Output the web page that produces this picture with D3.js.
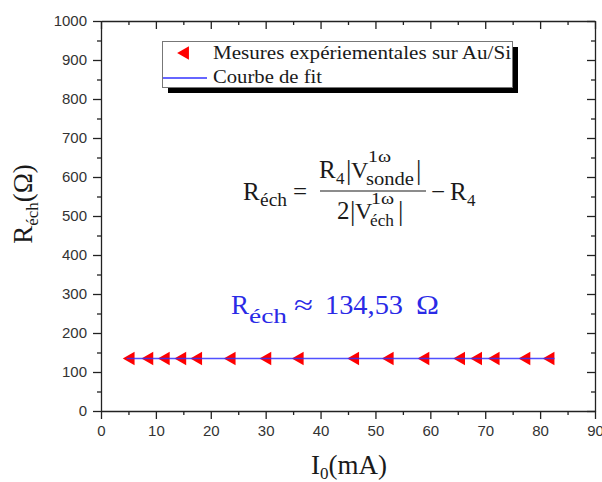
<!DOCTYPE html>
<html>
<head>
<meta charset="utf-8">
<script src="https://cdn.jsdelivr.net/npm/d3@7"></script>
<style>
  body { margin: 0; background: #fff; }
  .tick text { font-family: "Liberation Sans", Arial, sans-serif; font-size: 15px; fill: #333; }
  .axis path, .axis line { stroke: #222; stroke-width: 1.3; }
</style>
</head>
<body>
<div id="chart"></div>
<script>
// data
const currents = [5.4, 8.8, 11.8, 14.8, 17.7, 23.8, 30.3, 36.2, 46.3, 52.6, 59.1, 65.6, 68.7, 71.9, 77.5, 81.9];
const resistances = [134.5, 134.5, 134.5, 134.5, 134.5, 134.5, 134.5, 134.5, 134.5, 134.5, 134.5, 134.5, 134.5, 134.5, 134.5, 134.5];
const fitValue = 134.53;
const xMajor = d3.range(0, 91, 10);
const xMinor = d3.range(5, 90, 10);
const yMajor = d3.range(0, 1001, 100);
const yMinor = d3.range(50, 1000, 100);

const colors = {
  marker: "#ff0000",
  fit: "#3333ff",
  result: "#2a2ae6",
  text: "#1a1a1a"
};

// dimensions
const W = 602, H = 482;
const margin = { top: 21, right: 7, bottom: 71, left: 101 };
const width = W - margin.left - margin.right;
const height = H - margin.top - margin.bottom;

const root = d3.select("#chart").append("svg")
  .attr("width", W)
  .attr("height", H);

const svg = root.append("g")
  .attr("transform", `translate(${margin.left},${margin.top})`);

const x = d3.scaleLinear().domain([0, 90]).range([0, width]);
const y = d3.scaleLinear().domain([0, 1000]).range([height, 0]);

// axes (bottom/left outward with labels, top/right inward)
svg.append("g").attr("class", "axis")
  .attr("transform", `translate(0,${height})`)
  .call(d3.axisBottom(x).tickValues(xMajor).tickFormat(d3.format("d")).tickSize(8).tickPadding(6).tickSizeOuter(0));
svg.append("g").attr("class", "axis")
  .attr("transform", `translate(0,${height})`)
  .call(d3.axisBottom(x).tickValues(xMinor).tickSize(4).tickFormat("").tickSizeOuter(0))
  .call(g => g.select(".domain").remove());

svg.append("g").attr("class", "axis")
  .call(d3.axisLeft(y).tickValues(yMajor).tickFormat(d3.format("d")).tickSize(8).tickPadding(6).tickSizeOuter(0));
svg.append("g").attr("class", "axis")
  .call(d3.axisLeft(y).tickValues(yMinor).tickSize(4).tickFormat("").tickSizeOuter(0))
  .call(g => g.select(".domain").remove());

svg.append("g").attr("class", "axis")
  .call(d3.axisTop(x).tickValues(xMajor).tickSize(-8).tickFormat("").tickSizeOuter(0));
svg.append("g").attr("class", "axis")
  .call(d3.axisTop(x).tickValues(xMinor).tickSize(-4).tickFormat("").tickSizeOuter(0))
  .call(g => g.select(".domain").remove());

svg.append("g").attr("class", "axis")
  .attr("transform", `translate(${width},0)`)
  .call(d3.axisRight(y).tickValues(yMajor).tickSize(-8).tickFormat("").tickSizeOuter(0));
svg.append("g").attr("class", "axis")
  .attr("transform", `translate(${width},0)`)
  .call(d3.axisRight(y).tickValues(yMinor).tickSize(-4).tickFormat("").tickSizeOuter(0))
  .call(g => g.select(".domain").remove());

// markers: left-pointing triangles
const tri = d3.symbol().type(d3.symbolTriangle).size(80);
svg.selectAll(".pt")
  .data(currents.map((c, i) => ({ c, r: resistances[i] })))
  .enter().append("path")
  .attr("class", "pt")
  .attr("d", tri)
  .attr("transform", d => `translate(${x(d.c)},${y(d.r)}) rotate(-90)`)
  .attr("fill", colors.marker);

// fit line
svg.append("line")
  .attr("x1", x(d3.min(currents)) - 4)
  .attr("x2", x(d3.max(currents)) + 4)
  .attr("y1", y(fitValue))
  .attr("y2", y(fitValue))
  .attr("stroke", colors.fit)
  .attr("stroke-opacity", 0.85)
  .attr("stroke-width", 1.6);

// axis titles
const serif = '"Liberation Serif", "Times New Roman", serif';
const yt = root.append("text")
  .attr("transform", "translate(32,204) rotate(-90)")
  .attr("text-anchor", "middle")
  .style("font-family", serif)
  .style("font-size", "27px")
  .attr("fill", colors.text);
yt.append("tspan").text("R");
yt.append("tspan").attr("dy", 6).style("font-size", "17px").text("éch");
yt.append("tspan").attr("dy", -6).text("(Ω)");

const xt = root.append("text")
  .attr("x", 349).attr("y", 474)
  .attr("text-anchor", "middle")
  .style("font-family", serif)
  .style("font-size", "27px")
  .attr("fill", colors.text);
xt.append("tspan").text("I");
xt.append("tspan").attr("dy", 5).style("font-size", "17px").text("0");
xt.append("tspan").attr("dy", -5).text("(mA)");

// legend
const lg = root.append("g");
lg.append("rect").attr("x", 168).attr("y", 47).attr("width", 350).attr("height", 46).attr("fill", "#000");
lg.append("rect").attr("x", 162.5).attr("y", 41.5).attr("width", 350).attr("height", 46)
  .attr("fill", "#fff").attr("stroke", "#777").attr("stroke-width", 1);
lg.append("path").attr("d", tri).attr("transform", "translate(185,53) rotate(-90)").attr("fill", colors.marker);
lg.append("line").attr("x1", 163).attr("x2", 207).attr("y1", 78).attr("y2", 78)
  .attr("stroke", colors.fit).attr("stroke-width", 1.6);
lg.append("text").attr("x", 213).attr("y", 59)
  .style("font-family", serif).style("font-size", "18px").attr("fill", colors.text)
  .attr("textLength", 298).attr("lengthAdjust", "spacingAndGlyphs")
  .text("Mesures expériementales sur Au/Si");
lg.append("text").attr("x", 213).attr("y", 83)
  .style("font-family", serif).style("font-size", "18px").attr("fill", colors.text)
  .attr("textLength", 109).attr("lengthAdjust", "spacingAndGlyphs")
  .text("Courbe de fit");

// formula: each line is one text element, pieces placed with tspans
function line(parent, parts) {
  const t = parent.append("text");
  parts.forEach(p => {
    const s = t.append("tspan").attr("x", p[1]).attr("y", p[2]).style("font-size", p[3] + "px").text(p[0]);
    if (p[4]) s.attr("textLength", p[4]).attr("lengthAdjust", "spacingAndGlyphs");
  });
  return t;
}
const fm = root.append("g").style("font-family", serif).attr("fill", colors.text);
line(fm, [["R", 243, 200, 25], ["éch", 260, 206, 18, 27], ["=", 293, 200, 25]]);
line(fm, [["R", 319, 178, 25], ["4", 336, 184, 17], ["|", 346, 179, 27], ["V", 351, 178, 24],
      ["1ω", 368, 162, 17, 23], ["sonde", 366, 185, 18, 48], ["|", 416, 179, 27]]);
fm.append("line").attr("x1", 320).attr("x2", 426).attr("y1", 191).attr("y2", 191)
  .attr("stroke", colors.text).attr("stroke-width", 1.2);
line(fm, [["2", 337, 219, 25], ["|", 350, 220, 27], ["V", 355, 219, 24],
      ["1ω", 371, 204, 17, 23], ["éch", 370, 226, 17, 24], ["|", 398, 220, 27]]);
line(fm, [["−", 431, 200, 25], ["R", 450, 200, 25], ["4", 467, 206, 17]]);

// fitted value
const rs = root.append("g").style("font-family", serif).attr("fill", colors.result);
line(rs, [["R", 231, 314, 27], ["éch", 249, 323, 20, 38], ["≈", 294, 314, 27, 19],
          ["134,53", 325, 314, 27, 78], ["Ω", 416, 314, 27, 23]]);
</script>
</body>
</html>
